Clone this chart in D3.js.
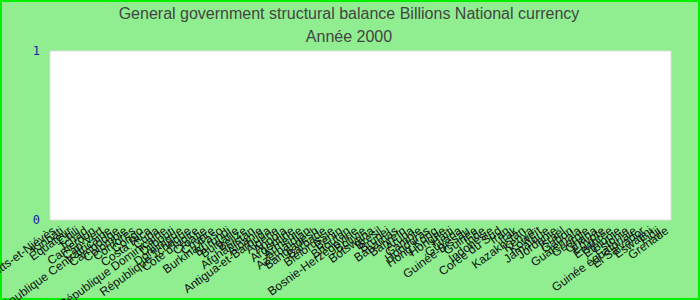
<!DOCTYPE html>
<html>
<head>
<meta charset="utf-8">
<script src="https://cdn.jsdelivr.net/npm/d3@7"></script>
<style>
  body { margin: 0; padding: 0; }
</style>
</head>
<body>
<div id="chart"></div>
<script>
// données : aucune valeur pour 2000, seulement les pays
var countries = [
  "Saint-Kitts-et-Niévès", "Kiribati", "Équateur", "Chili", "Tchad",
  "Cameroun", "Cap-Vert", "République Centrafricaine", "Cambodge", "Colombie",
  "Comores", "Congo", "Costa Rica", "Cuba", "République Dominicaine",
  "Djibouti", "Dominique", "République Tchèque", "Côte d'Ivoire", "Croatie",
  "Chypre", "Burkina Faso", "Burundi", "Bulgarie", "Belize",
  "Afghanistan", "Albanie", "Antigua-et-Barbuda", "Algérie", "Angola",
  "Argentine", "Arménie", "Azerbaïdjan", "Bangladesh", "Barbade",
  "Biélorussie", "Bénin", "Bhoutan", "Bosnie-Herzégovine", "Bolivie",
  "Botswana", "Brésil", "Brunei", "Bahamas", "Bahreïn",
  "Aruba", "Gambie", "Honduras", "Hong Kong", "Hongrie",
  "Haïti", "Guyana", "Guinée-Bissau", "Guinée", "Inde",
  "Indonésie", "Corée du Sud", "Iran", "Irak", "Kazakhstan",
  "Kenya", "Koweït", "Jamaïque", "Jordanie", "Israël",
  "Gabon", "Guatemala", "Géorgie", "Ghana", "Égypte",
  "Érythrée", "Éthiopie", "Estonie", "Guinée équatoriale", "El Salvador",
  "Eswatini", "Fidji", "Grenade"
];
var values = countries.map(function() { return null; });
var yTicks = [0, 1];

var width = 700, height = 300;

var svg = d3.select('#chart')
    .append('svg')
        .attr('width', width)
        .attr('height', height)
        .style('display', 'block');

svg.append('rect')
    .attr('x', 1).attr('y', 1)
    .attr('width', width - 2).attr('height', height - 2)
    .style('fill', '#90ee90')
    .style('stroke', '#00ee00')
    .style('stroke-width', 2);

svg.append('text')
    .attr('x', 349).attr('y', 19)
    .attr('text-anchor', 'middle')
    .style('font-family', 'Liberation Sans, Arial, sans-serif')
    .style('font-size', '16px')
    .style('fill', '#444')
    .text('General government structural balance Billions National currency');

svg.append('text')
    .attr('x', 349).attr('y', 42)
    .attr('text-anchor', 'middle')
    .style('font-family', 'Liberation Sans, Arial, sans-serif')
    .style('font-size', '16px')
    .style('fill', '#444')
    .text('Année 2000');

var x = d3.scaleBand()
    .domain(countries)
    .range([50, 671]);

var y = d3.scaleLinear()
    .domain([0, 1])
    .range([220, 51]);

svg.append('rect')
    .attr('x', 50).attr('y', 51)
    .attr('width', 621).attr('height', 169)
    .style('fill', 'white')
    .style('stroke', '#ddd');

// barres (vides)
svg.selectAll('.bar')
    .data(countries.filter(function(c, i) { return values[i] != null; }))
    .enter().append('rect')
        .attr('class', 'bar')
        .attr('x', function(d) { return x(d); })
        .attr('width', x.bandwidth())
        .attr('y', function(d) { return y(values[countries.indexOf(d)]); })
        .attr('height', function(d) { return y(0) - y(values[countries.indexOf(d)]); })
        .style('fill', 'steelblue');

var yAxis = svg.append('g')
    .attr('transform', 'translate(43,0)')
    .call(d3.axisLeft(y).tickValues(yTicks).tickFormat(d3.format('d')).tickSize(0));
yAxis.select('.domain').remove();
yAxis.selectAll('text')
    .style('font-family', 'DejaVu Sans Mono, monospace')
    .style('font-size', '12px')
    .style('fill', '#1a1aa6');

var xAxis = svg.append('g')
    .attr('transform', 'translate(0,229)')
    .call(d3.axisBottom(x).tickSize(0));
xAxis.select('.domain').remove();
xAxis.selectAll('text')
    .attr('y', 0)
    .attr('dy', '0.35em')
    .attr('text-anchor', 'end')
    .attr('transform', 'rotate(-36)')
    .style('font-family', 'Liberation Sans, Arial, sans-serif')
    .style('font-size', '12px')
    .style('fill', '#111');
</script>
</body>
</html>
